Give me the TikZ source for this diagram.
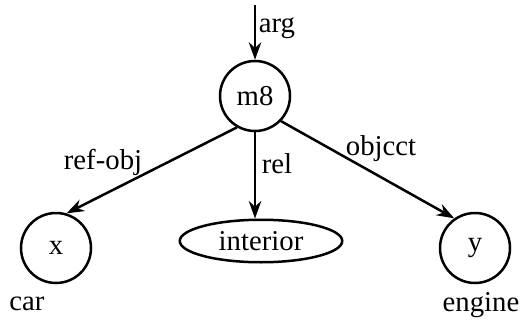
\documentclass[tikz,border=0pt]{standalone}
\usepackage{fontspec}
\setmainfont{Liberation Serif}
\usetikzlibrary{shapes.geometric, arrows.meta}

\tikzset{
    every node/.style={font=\fontsize{11.5}{13}\selectfont},
    var/.style={draw, circle, line width=1pt, minimum size=28pt, inner sep=0pt},
    rel/.style={draw, ellipse, line width=1pt, minimum width=65pt, minimum height=17pt, inner sep=0pt},
    arc/.style={-{Stealth[length=7pt, width=5pt]}, line width=1pt}
}

\begin{document}
\begin{tikzpicture}[x=0.4pt, y=-0.4pt]
            \useasboundingbox (0, 0) rectangle (520, 320);

            \coordinate (in) at (255, 5);
            \node[var] (m8) at (255, 96) {m8};
            \node[var] (x) at (56, 248) {x};
            \node[rel] (interior) at (261, 241) {interior};
            \node[var] (y) at (475, 248) {y};

            \node (car) at (27, 304) {car};
            \node (engine) at (481, 305) {engine};

            \node (arglabel) at (277, 28) {arg};
            \node (refobjlabel) at (103, 162) {ref-obj};
            \node (rellabel) at (277, 164) {rel};
            \node (objectlabel) at (381, 149) {objcct};

            \draw [arc](in) -- (m8.north);
            \draw [arc](m8.240) -- (x.73);
            \draw [arc](m8.south) -- (m8.south |- interior.north);
            \draw [arc](m8.316) -- (y.125);
        \end{tikzpicture}
\end{document}
